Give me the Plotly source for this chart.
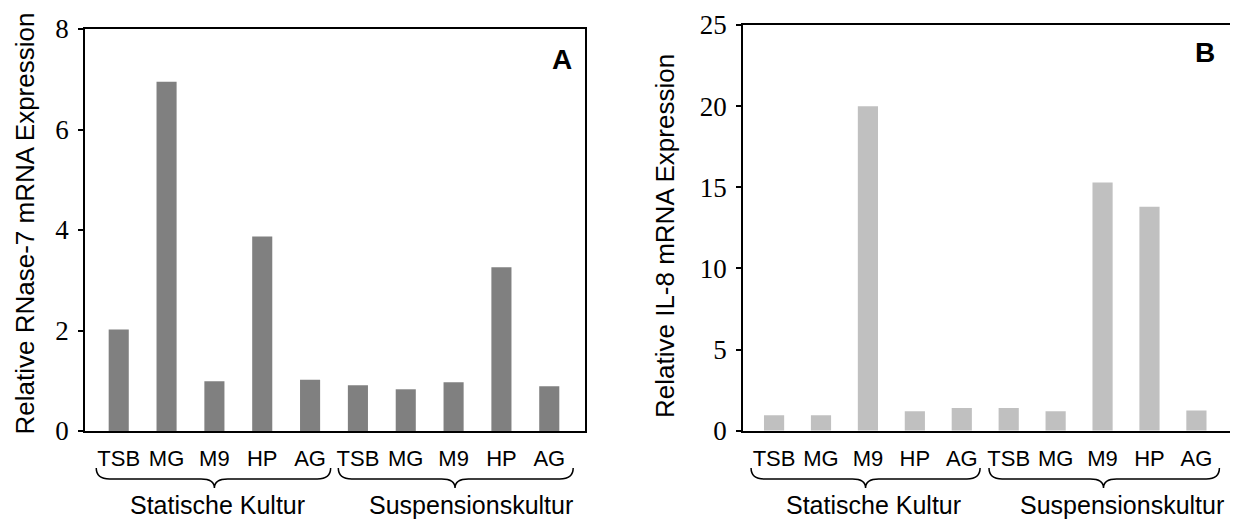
import plotly.graph_objects as go

categories = ["TSB", "MG", "M9", "HP", "AG", "TSB", "MG", "M9", "HP", "AG"]
groups = ["Statische Kultur", "Suspensionskultur"]
rnase7 = [2.02, 6.95, 0.99, 3.87, 1.02, 0.91, 0.83, 0.97, 3.26, 0.89]
il8 = [0.95, 0.95, 20.0, 1.2, 1.4, 1.4, 1.2, 15.3, 13.8, 1.25]
yticks_a = [0, 2, 4, 6, 8]
yticks_b = [0, 5, 10, 15, 20, 25]

# page body has an 8px margin; lay the figure out in window pixel coordinates
OFF = 8
W, H = 1238 - OFF, 520 - OFF
pos = list(range(len(categories)))

SANS = "Liberation Sans, Arial, sans-serif"
SERIF = "Liberation Serif, Times New Roman, serif"


def px(p):
    return (p - OFF) / W


def py(p):
    return (H - (p - OFF)) / H


fig = go.Figure()
fig.add_trace(go.Bar(x=pos, y=rnase7, width=0.42, marker=dict(color="#808080", line=dict(width=0)),
                     xaxis="x", yaxis="y", showlegend=False))
fig.add_trace(go.Bar(x=pos, y=il8, width=0.43, marker=dict(color="#c0c0c0", line=dict(width=0)),
                     xaxis="x2", yaxis="y2", showlegend=False))

common_x = dict(showline=True, mirror=True, linecolor="black", linewidth=1.5, ticks="",
                showgrid=False, zeroline=False, tickvals=pos, ticktext=categories,
                tickfont=dict(family=SANS, size=22, color="black"), ticklabelstandoff=7,
                automargin=False, fixedrange=True)
common_y = dict(showline=True, mirror=True, linecolor="black", linewidth=1.5, ticks="outside",
                ticklen=5, tickwidth=1.5, tickcolor="black", showgrid=False, zeroline=False,
                tickfont=dict(family=SERIF, size=27, color="black"), ticklabelstandoff=4,
                automargin=False)

fig.update_layout(
    width=W, height=H, margin=dict(l=0, r=0, t=0, b=0, autoexpand=False),
    paper_bgcolor="white", plot_bgcolor="white", showlegend=False,
    xaxis=dict(domain=[px(85), px(585)], range=[-0.705, 9.747], anchor="y", **common_x),
    yaxis=dict(domain=[py(431), py(29)], range=[0, 8], tickvals=yticks_a, anchor="x", **common_y),
    xaxis2=dict(domain=[px(743), px(1231)], range=[-0.662, 9.737], anchor="y2", **common_x),
    yaxis2=dict(domain=[py(430.7), py(25)], range=[0, 25], tickvals=yticks_b, anchor="x2", **common_y),
)


def brace(x0, x1, xm, xref):
    yt, ym, yb = py(468), py(479), py(488)
    d = 0.28
    p = (f"M {x0},{yt} Q {x0},{ym} {x0 + d},{ym} L {xm - d},{ym} "
         f"Q {xm},{ym} {xm},{yb} Q {xm},{ym} {xm + d},{ym} "
         f"L {x1 - d},{ym} Q {x1},{ym} {x1},{yt}")
    return dict(type="path", path=p, xref=xref, yref="paper",
                line=dict(color="black", width=1.5))


shapes = [
    brace(-0.47, 4.43, 2.0, "x"), brace(4.59, 9.5, 7.03, "x"),
    brace(-0.49, 4.39, 1.95, "x2"), brace(4.58, 9.49, 7.02, "x2"),
]
fig.update_layout(shapes=shapes)

ann = []
for xr, xs in (("x", [2.06, 7.36]), ("x2", [2.11, 7.42])):
    for g, xx in zip(groups, xs):
        ann.append(dict(text=g, x=xx, y=py(505), xref=xr, yref="paper", showarrow=False,
                        xanchor="center", yanchor="middle",
                        font=dict(family=SANS, size=25, color="black")))
ann.append(dict(text="Relative RNase-7 mRNA Expression", x=px(24), y=py(223.5), xref="paper",
                yref="paper", showarrow=False, textangle=-90, xanchor="center", yanchor="middle",
                font=dict(family=SANS, size=26, color="black")))
ann.append(dict(text="Relative IL-8 mRNA Expression", x=px(665), y=py(236), xref="paper",
                yref="paper", showarrow=False, textangle=-90, xanchor="center", yanchor="middle",
                font=dict(family=SANS, size=26, color="black")))
ann.append(dict(text="<b>A</b>", x=px(562), y=py(59), xref="paper", yref="paper", showarrow=False,
                xanchor="center", yanchor="middle", font=dict(family=SANS, size=28, color="black")))
ann.append(dict(text="<b>B</b>", x=px(1205), y=py(52), xref="paper", yref="paper", showarrow=False,
                xanchor="center", yanchor="middle", font=dict(family=SANS, size=28, color="black")))
fig.update_layout(annotations=ann)

fig.write_html("out.html")
